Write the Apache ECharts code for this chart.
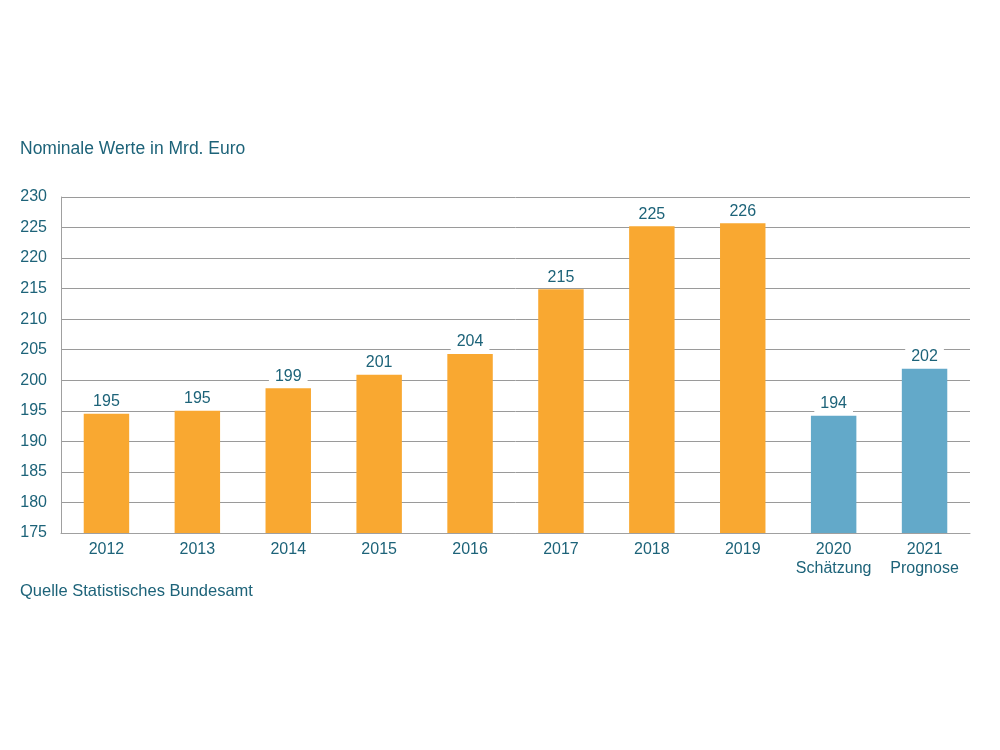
<!DOCTYPE html>
<html>
<head>
<meta charset="utf-8">
<script src="https://cdn.jsdelivr.net/npm/echarts@6/dist/echarts.min.js"></script>
<style>
  html, body { margin: 0; padding: 0; background: #fff; }
  #chart { width: 1000px; height: 750px; }
</style>
</head>
<body>
<div id="chart"></div>
<script>
  // Jahre und Werte (Mrd. Euro)
  var years = ['2012', '2013', '2014', '2015', '2016', '2017', '2018', '2019', '2020', '2021'];
  var notes = ['', '', '', '', '', '', '', '', 'Schätzung', 'Prognose'];
  var values = [194.5, 195.0, 198.7, 200.9, 204.3, 214.9, 225.2, 225.7, 194.2, 201.9];
  var labels = ['195', '195', '199', '201', '204', '215', '225', '226', '194', '202'];
  var isForecast = [false, false, false, false, false, false, false, false, true, true];

  var textColor = '#1d6379';
  var orange = '#f9a831';
  var blue = '#63a9c9';

  var chart = echarts.init(document.getElementById('chart'));
  chart.setOption({
    animation: false,
    textStyle: { fontFamily: 'Liberation Sans, Arial, sans-serif' },
    title: [
      {
        text: 'Nominale Werte in Mrd. Euro',
        left: 15, top: 135,
        textStyle: { color: textColor, fontSize: 17.5, fontWeight: 'normal' }
      },
      {
        text: 'Quelle Statistisches Bundesamt',
        left: 15, top: 578,
        textStyle: { color: textColor, fontSize: 16.5, fontWeight: 'normal' }
      }
    ],
    grid: { left: 61, right: 30, top: 197, bottom: 217 },
    xAxis: {
      type: 'category',
      data: years.map(function (y, i) { return notes[i] ? y + '\n' + notes[i] : y; }),
      axisLine: { lineStyle: { color: '#a0a0a0', width: 1 } },
      axisTick: { show: false },
      axisLabel: { color: textColor, fontSize: 16, margin: 7, lineHeight: 19, interval: 0 }
    },
    yAxis: {
      type: 'value',
      min: 175, max: 230, interval: 5,
      axisLine: { show: true, lineStyle: { color: '#a0a0a0', width: 1 } },
      axisTick: { show: false },
      axisLabel: { color: textColor, fontSize: 16, margin: 14 },
      splitLine: { lineStyle: { color: '#9a9a9a', width: 1 } }
    },
    series: [{
      type: 'bar',
      barWidth: '50%',
      data: values.map(function (v, i) {
        return { value: v, itemStyle: { color: isForecast[i] ? blue : orange } };
      }),
      label: {
        show: true,
        position: 'top',
        distance: 3,
        color: textColor,
        fontSize: 16,
        backgroundColor: '#fff',
        padding: [1, 6],
        formatter: function (p) { return labels[p.dataIndex]; }
      }
    }]
  });
</script>
</body>
</html>
